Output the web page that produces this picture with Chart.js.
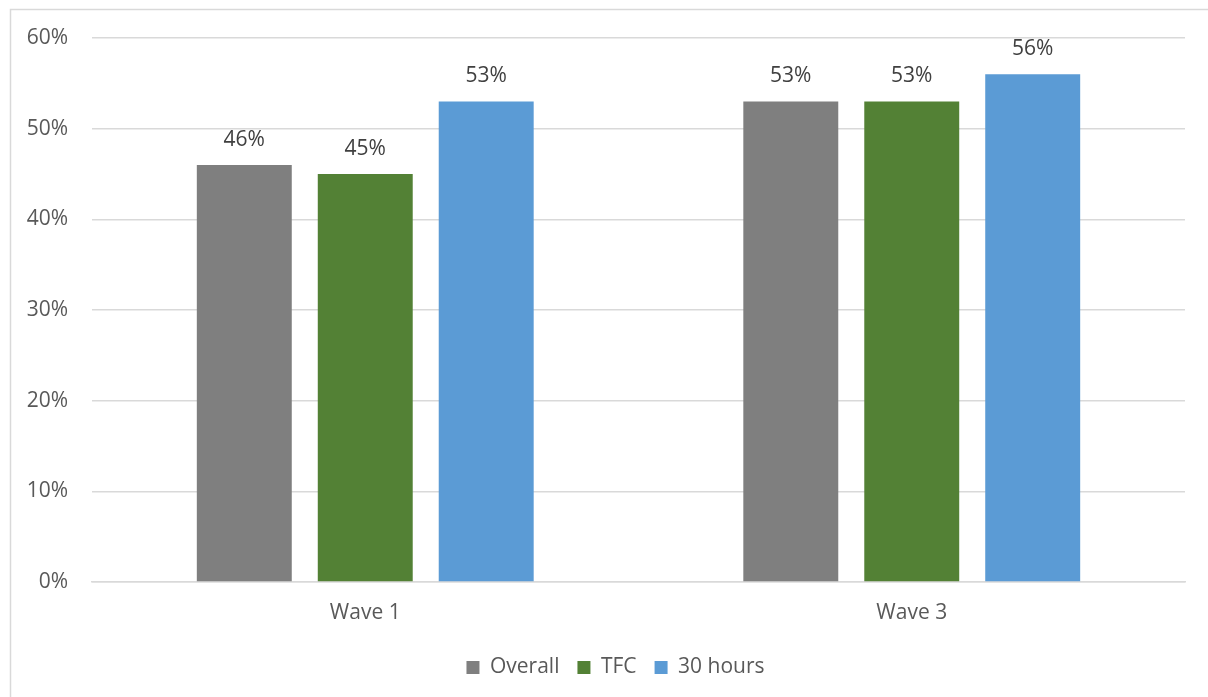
<!DOCTYPE html>
<html>
<head>
<meta charset="utf-8">
<script src="https://cdn.jsdelivr.net/npm/chart.js@4/dist/chart.umd.min.js"></script>
<style>
  html, body { margin: 0; padding: 0; background: #ffffff; }
  #wrap { width: 1208px; height: 697px; position: relative; }
</style>
</head>
<body>
<div id="wrap"><canvas id="c" width="1208" height="697"></canvas></div>
<script>
const categories = ['Wave 1', 'Wave 3'];
const overall = [46, 53];
const tfc = [45, 53];
const thirtyHours = [53, 56];
const yTicks = [0, 10, 20, 30, 40, 50, 60];

const FONT = "'Open Sans', 'Noto Sans', sans-serif";
const TEXT = '#595959';
const GRID = '#d9d9d9';
const SIZE = 21;

// Outer frame of the chart object
const framePlugin = {
  id: 'frame',
  beforeDraw(chart) {
    const ctx = chart.ctx;
    ctx.save();
    ctx.fillStyle = '#ffffff';
    ctx.fillRect(0, 0, chart.width, chart.height);
    ctx.strokeStyle = GRID;
    ctx.lineWidth = 1.5;
    ctx.strokeRect(10.5, 9.5, chart.width + 20, chart.height + 20);
    ctx.restore();
  }
};

// Centre the legend on the framed area rather than the canvas
const legendShift = {
  id: 'legendShift',
  afterLayout(chart) {
    const lg = chart.legend;
    if (lg) { lg.left += 23; lg.right += 23; }
  }
};

// Value labels above each bar
const valueLabels = {
  id: 'valueLabels',
  afterDatasetsDraw(chart) {
    const ctx = chart.ctx;
    ctx.save();
    ctx.font = SIZE + 'px ' + FONT;
    ctx.fillStyle = '#404040';
    ctx.textAlign = 'center';
    ctx.textBaseline = 'middle';
    chart.data.datasets.forEach((ds, i) => {
      chart.getDatasetMeta(i).data.forEach((bar, j) => {
        ctx.fillText(ds.data[j] + '%', bar.x, bar.y - 25);
      });
    });
    ctx.restore();
  }
};

new Chart(document.getElementById('c'), {
  type: 'bar',
  data: {
    labels: categories,
    datasets: [
      { label: 'Overall', data: overall, backgroundColor: '#7f7f7f' },
      { label: 'TFC', data: tfc, backgroundColor: '#538135' },
      { label: '30 hours', data: thirtyHours, backgroundColor: '#5b9bd5' }
    ]
  },
  options: {
    responsive: false,
    animation: false,
    devicePixelRatio: 1,
    categoryPercentage: 0.664,
    barPercentage: 0.785,
    layout: { padding: { top: 38, right: 23, left: 0, bottom: 9 } },
    plugins: {
      legend: {
        position: 'bottom',
        labels: {
          font: { family: FONT, size: SIZE },
          color: TEXT,
          boxWidth: 13,
          boxHeight: 13,
          padding: 18
        }
      },
      tooltip: { enabled: false }
    },
    scales: {
      x: {
        grid: { display: false, drawTicks: false },
        border: { display: true, color: GRID, width: 1.5 },
        ticks: { font: { family: FONT, size: SIZE }, color: TEXT, padding: 18 },
        afterFit(scale) { scale.height = 57; }
      },
      y: {
        min: 0,
        max: 60,
        afterBuildTicks(scale) { scale.ticks = yTicks.map(v => ({ value: v })); },
        grid: { color: GRID, lineWidth: 1.5, drawTicks: false },
        border: { display: false },
        ticks: {
          font: { family: FONT, size: SIZE },
          color: TEXT,
          padding: 24,
          callback: v => v + '%'
        },
        afterFit(scale) { scale.width = 92; }
      }
    }
  },
  plugins: [framePlugin, legendShift, valueLabels]
});
</script>
</body>
</html>
